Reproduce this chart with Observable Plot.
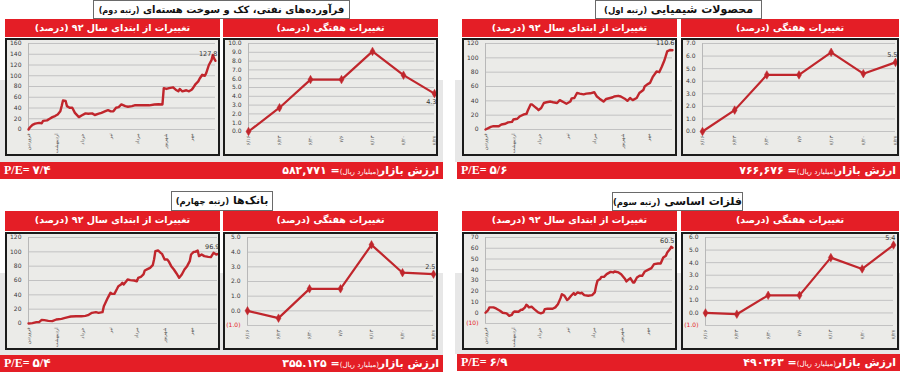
<!DOCTYPE html>
<html><head><meta charset="utf-8">
<script src="https://cdn.jsdelivr.net/npm/d3@7"></script>
<script src="https://cdn.jsdelivr.net/npm/@observablehq/plot@0.6"></script>
<style>
body{margin:0;width:900px;height:373px;position:relative;background:#fff;font-family:"DejaVu Sans",sans-serif;overflow:hidden}
.band{position:absolute;background:#e7e7e7}
.title{position:absolute;background:#fff;border:1px solid #6a6a6a;box-sizing:border-box;direction:rtl;text-align:center;font-weight:bold;font-size:11px;color:#111;line-height:17px;white-space:nowrap;overflow:hidden}
.title small{font-size:8.5px;font-weight:bold}
.title.narrow{font-size:10px;letter-spacing:-0.2px}
.title.narrow small{font-size:8px}
.hdr{position:absolute;background:#e41e26;color:#fff;font-weight:bold;font-size:9.5px;text-align:center;direction:rtl;line-height:18px;white-space:nowrap}
.box{position:absolute;border:2px solid #1b1b1b;background:#ebebe8;box-sizing:border-box}
.box svg{display:block}
.bar{position:absolute;background:#e41e26;color:#fff;font-weight:bold;font-size:11px;line-height:17px;white-space:nowrap}
.bar .mv{position:absolute;right:4px;top:0;direction:rtl}
.bar .mv small{font-size:7px;font-weight:normal}
.bar .pe{position:absolute;left:4px;top:0;direction:ltr;font-family:"Liberation Serif","DejaVu Sans",serif;font-size:12px}
</style></head>
<body>
<script>
// ---------- data ----------
const monthLabels = ["فروردین","اردیبهشت","خرداد","تیر","مرداد","شهریور","مهر"];
const monthTicks = [0,21,41,62,82,103,123];
const weekLabels = ["۶/۱۶","۶/۲۳","۶/۳۰","۷/۶","۷/۱۳","۷/۲۰","۷/۲۷"];

const chemDays = [0,4,6,10,12,15,17,20,21,24,26,29,31,32,34,35,37,39,40,42,44,46,49,51,54,56,59,61,64,65,67,69,71,74,76,79,82,84,86,89,91,94,96,97,100,102,105,107,109,111,114,116,119,120,122,124,126,129,131,133,135,137,139,141];
const chemYtd  = [0,3.7,4.6,4.6,7,8,10,10.6,14,15,18.5,21,22,27,35,35,32,29,27,30,37,38,39,38,37,41,38,36,39,43.5,44,51,50,49,50,50.5,52,46,43,39,42.6,44,45,46,47,46,43,40,44,41,44,51,55,60,63,65,73,81,80,88,97,109,111,110.6];
const chemWeekly = [0,1.7,4.5,4.5,6.3,4.6,5.5];

const petroDays = [0,1,3,5,8,10,11,14,16,18,20,22,24,25,26,28,29,31,33,35,38,40,43,45,48,50,53,55,58,60,62,64,66,68,70,73,75,78,80,86,91,95,98,101,102,104,106,109,111,113,114,116,119,121,123,124,126,128,129,131,133,134,136,138,139,140,141];
const petroYtd  = [0,3.7,8.6,11,12.3,11.6,16,17,20,23,25,28,34,43.5,54,53,43.5,40.5,40.5,31,23,26,30,29.4,30,27,29.4,31,34,36,33.7,34,40.5,41.7,46.6,43.5,42.3,43.5,45,45,45,46.6,47,46.6,77,75.4,77,78.5,74,71,75.4,71,73,71,74,77,84.6,89.5,94.4,101.8,100,104.8,120,129,138.6,132,127.8];
const petroWeekly = [0,2.7,5.9,5.9,9.1,6.4,4.3];

const metalDays = [0,2,3,6,8,11,13,16,18,20,21,22,25,27,28,30,31,32,33,35,37,40,42,44,45,47,51,53,55,57,58,60,62,63,65,67,68,70,72,73,75,78,81,83,84,85,87,88,90,92,95,97,98,101,103,106,107,109,110,112,113,115,117,119,121,123,126,128,131,133,135,137,138,140,141,142];
const metalYtd  = [0,2.5,5,5,4,1.9,0,-0.6,-2.8,-1.9,0.3,1.2,0.9,2.8,2.8,5,7.4,6.5,5,5.6,3.4,0.3,-0.6,0.3,3.4,3.7,3.7,5,8,13.6,17.3,15.8,11.8,12.7,15.8,18.3,16.7,18.9,18,18.6,16.4,15.8,16.4,18.9,25,29.7,31.3,33.4,33.4,35.9,38,37.5,38.4,37.5,35.9,31.3,29.1,31.3,32.2,28.2,28.2,32.8,34.4,34.4,38.4,39.6,41.5,45.2,45.8,45.8,51.4,53,56,59,61.3,60.5];
const metalWeekly = [0,-0.1,1.4,1.4,4.4,3.5,5.4];

const bankDays = [0,3,6,8,10,12,15,18,21,25,27,30,32,36,40,43,45,48,51,53,56,57,60,62,63,65,67,68,70,71,72,74,75,77,80,82,83,85,87,88,90,92,94,95,96,98,100,101,103,105,106,108,110,112,114,116,118,120,122,123,125,126,128,129,131,133,136,138,140,142,143];
const bankYtd  = [0,0.5,1.9,1.9,5.1,4.7,3.7,3.3,5.6,6.5,7.4,8.8,9.8,10.2,10.2,10.7,11.6,14.9,15.8,14.9,15.8,24.2,35.8,42.8,41.4,41.4,48.4,52.1,54.4,56.7,54.4,59,61.4,60.5,60,59,63.7,65.1,68.4,74,75.8,77.7,81.4,89.3,101,101.9,98.6,97.2,89.3,89.3,87,80,75.3,69.8,63.7,68.4,75.3,80,87,96.3,100,100,101.9,94,96.3,94,93,92.6,98.6,96.3,96.9];
const bankWeekly = [0,-0.5,1.5,1.5,4.5,2.6,2.5];

const chemYTicks  = [0,20,40,60,80,100,120];
const petroYTicks = [0,20,40,60,80,100,120,140,160];
const metalYTicks = [-10,0,10,20,30,40,50,60,70];
const bankYTicks  = [0,20,40,60,80,100,120];
const chemWTicks  = [0,1,2,3,4,5,6,7];
const petroWTicks = [0,1,2,3,4,5,6,7,8,9,10];
const metalWTicks = [-1,0,1,2,3,4,5,6];
const bankWTicks  = [-1,0,1,2,3,4,5];

const ytdHeader = "تغییرات از ابتدای سال ۹۲ (درصد)";
const weekHeader = "تغییرات هفتگی (درصد)";
const mvLabel = "ارزش بازار";
const mvUnit = "(میلیارد ریال)";

// ---------- layout helpers ----------
const RED = "#e41e26", LINE = "#c0262c";
function div(cls, x, y, w, h, html) {
  const e = document.createElement("div");
  e.className = cls;
  Object.assign(e.style, {left: x + "px", top: y + "px", width: w + "px", height: h + "px"});
  if (html != null) e.innerHTML = html;
  document.body.appendChild(e);
  return e;
}

function yAxes(ticks, fmt) {
  const pos = ticks.filter(t => t >= 0), neg = ticks.filter(t => t < 0);
  const m = [Plot.axisY(pos, {label: null, tickSize: 0, tickPadding: 7, fill: "#3a3a3a", fontSize: 6, tickFormat: fmt})];
  if (neg.length) m.push(Plot.axisY(neg, {label: null, tickSize: 0, tickPadding: 7, fill: RED, fontSize: 6, tickFormat: t => "(" + fmt(Math.abs(t)) + ")"}));
  return m;
}

function ytdChart(box, days, vals, yTicks, mr) {
  const data = days.map((d, i) => ({d, v: vals[i]}));
  const dom = d3.extent(days);
  const last = data[data.length - 1];
  const p = Plot.plot({
    width: 211, height: 114, marginLeft: 21, marginRight: mr, marginTop: 3, marginBottom: 25,
    style: {background: "transparent", fontFamily: "DejaVu Sans", fontSize: "6px", color: "#3a3a3a"},
    x: {domain: dom, axis: null, label: null},
    y: {domain: [yTicks[0], yTicks[yTicks.length - 1]], axis: null, label: null},
    marks: [
      Plot.gridY(yTicks, {stroke: "#c2c2c2", strokeOpacity: 1}),
      Plot.ruleX([dom[0]], {stroke: "#b8b8b8"}),
      ...yAxes(yTicks, d => d3.format("d")(d)),
      Plot.axisX(monthTicks, {label: null, tickSize: 0, tickPadding: 4, tickRotate: -90, fontSize: 4.8, fill: "#555",
        tickFormat: d => monthLabels[monthTicks.indexOf(d)]}),
      Plot.line(data, {x: "d", y: "v", stroke: LINE, strokeWidth: 2.4, curve: "linear"}),
      Plot.text([last], {x: "d", y: "v", text: d => d3.format(".1f")(d.v), textAnchor: "end", dx: 2, dy: -7, fontSize: 6.5, fill: "#333"})
    ]
  });
  box.appendChild(p);
}

function weekChart(box, vals, yTicks, ml, mr, below) {
  const data = vals.map((v, i) => ({i, v}));
  const last = data[data.length - 1];
  const p = Plot.plot({
    width: box.clientWidth, height: 114, marginLeft: ml, marginRight: mr, marginTop: 3, marginBottom: 23,
    style: {background: "transparent", fontFamily: "DejaVu Sans", fontSize: "6px", color: "#3a3a3a"},
    x: {domain: [0, 6], axis: null, label: null},
    y: {domain: [yTicks[0], yTicks[yTicks.length - 1]], axis: null, label: null},
    marks: [
      Plot.gridY(yTicks, {stroke: "#c2c2c2", strokeOpacity: 1}),
      Plot.ruleX([0], {stroke: "#b8b8b8"}),
      ...yAxes(yTicks, d => d3.format(".1f")(d)),
      Plot.axisX(d3.range(7), {label: null, tickSize: 0, tickPadding: 4, tickRotate: -90, fontSize: 5, fill: "#555",
        tickFormat: d => weekLabels[d]}),
      Plot.line(data, {x: "i", y: "v", stroke: LINE, strokeWidth: 2.2}),
      Plot.dot(data, {x: "i", y: "v", symbol: "diamond", r: 2.6, fill: LINE, stroke: LINE, strokeWidth: 0.5}),
      Plot.text([last], {x: "i", y: "v", text: d => d3.format(".1f")(d.v), textAnchor: "end", dx: 2, dy: below ? 8 : -7, fontSize: 6.5, fill: "#333"})
    ]
  });
  box.appendChild(p);
}

function panel(cfg) {
  div("band", cfg.bandX, cfg.bandY, cfg.bandW, cfg.bandH);
  const t = div("title", cfg.titleX, cfg.titleY, cfg.titleW, cfg.titleH, cfg.title + " <small>" + cfg.rank + "</small>");
  if (cfg.narrow) t.classList.add("narrow");
  div("hdr", cfg.lx, cfg.hy, cfg.lw, cfg.hh, ytdHeader);
  div("hdr", cfg.rx, cfg.hy, cfg.rw, cfg.hh, weekHeader);
  const b1 = div("box", cfg.lx, cfg.by, cfg.lw, 118);
  const b2 = div("box", cfg.rx, cfg.by, cfg.rw, 118);
  const bar = div("bar", cfg.barX, cfg.barY, cfg.barW, 17);
  bar.innerHTML = '<span class="mv">' + mvLabel + '<small>' + mvUnit + '</small>= ' + cfg.mv + '</span>' +
                  '<span class="pe">P/E= ' + cfg.pe + '</span>';
  return [b1, b2];
}

// ---------- panels ----------
let bx;
bx = panel({title: "محصولات شیمیایی", rank: "(رتبه اول)", titleX: 595, titleY: 0, titleW: 167, titleH: 19,
  bandX: 455, bandY: 80, bandW: 445, bandH: 82, lx: 462, lw: 215, rx: 681, rw: 218, hy: 19, hh: 18, by: 38,
  barX: 457, barY: 162, barW: 443, mv: "۷۶۶,۶۷۶", pe: "۵/۶"});
ytdChart(bx[0], chemDays, chemYtd, chemYTicks, 3);
weekChart(bx[1], chemWeekly, chemWTicks, 19, 2, false);

bx = panel({title: "فرآورده‌های نفتی، کک و سوخت هسته‌ای", rank: "(رتبه دوم)", titleX: 93, titleY: 0, titleW: 257, titleH: 19, narrow: true,
  bandX: 0, bandY: 80, bandW: 443, bandH: 82, lx: 5, lw: 215, rx: 223, rw: 215, hy: 19, hh: 18, by: 38,
  barX: 0, barY: 162, barW: 443, mv: "۵۸۲,۷۷۱", pe: "۷/۴"});
ytdChart(bx[0], petroDays, petroYtd, petroYTicks, 3);
weekChart(bx[1], petroWeekly, petroWTicks, 23, 2, true);

bx = panel({title: "فلزات اساسی", rank: "(رتبه سوم)", titleX: 612, titleY: 192, titleW: 131, titleH: 19,
  bandX: 455, bandY: 273, bandW: 445, bandH: 81, lx: 462, lw: 215, rx: 681, rw: 218, hy: 211, hh: 20, by: 232,
  barX: 457, barY: 354, barW: 443, mv: "۴۹۰۳۶۳", pe: "۶/۹"});
ytdChart(bx[0], metalDays, metalYtd, metalYTicks, 3);
weekChart(bx[1], metalWeekly, metalWTicks, 22, 4, false);

bx = panel({title: "بانک‌ها", rank: "(رتبه چهارم)", titleX: 171, titleY: 191, titleW: 102, titleH: 20,
  bandX: 0, bandY: 273, bandW: 443, bandH: 82, lx: 5, lw: 215, rx: 223, rw: 215, hy: 211, hh: 20, by: 232,
  barX: 0, barY: 355, barW: 443, mv: "۳۵۵.۱۲۵", pe: "۵/۴"});
ytdChart(bx[0], bankDays, bankYtd, bankYTicks, 1);
weekChart(bx[1], bankWeekly, bankWTicks, 22, 3, false);
</script>
</body></html>
